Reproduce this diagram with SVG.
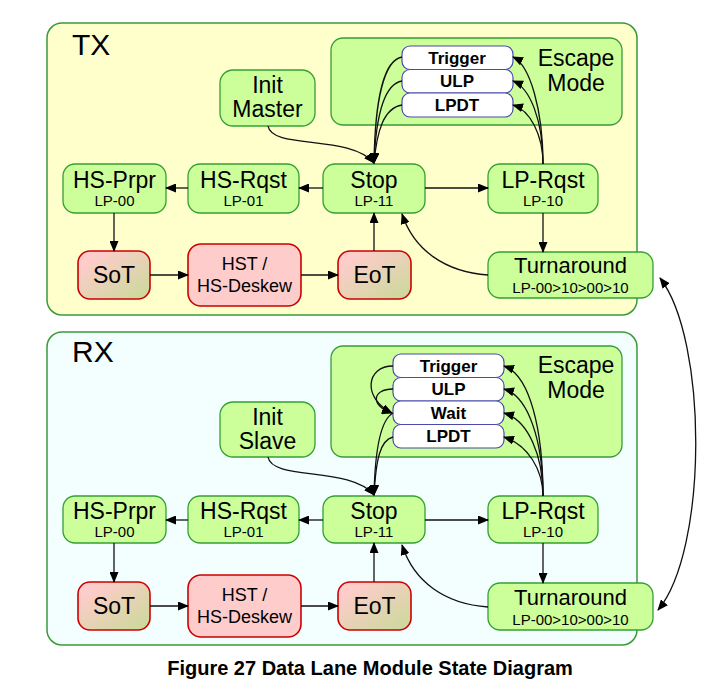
<svg xmlns="http://www.w3.org/2000/svg" width="714" height="682" viewBox="0 0 714 682">
<defs>
<style>
text{font-family:"Liberation Sans",Arial,sans-serif;fill:#000;text-anchor:middle}
.cont{stroke:#3a9a3a;stroke-width:1.5}
.esc{fill:#ccff99;stroke:#3a9a3a;stroke-width:1.3}
.node{fill:#ccff99;stroke:#33a033;stroke-width:1.3}
.red{fill:#ffcccc;stroke:#cc0000;stroke-width:1.6}
.grad{fill:url(#sg);stroke:#cc0000;stroke-width:1.6}
.sub{fill:#fff;stroke:#4a4aaa;stroke-width:1.2}
.big{font-size:23px}
.turn{font-size:22px}
.small{font-size:15px}
.mid{font-size:18px}
.bold{font-size:17px;font-weight:bold}
.title{font-size:30px;text-anchor:start}
.conn path{fill:none;stroke:#111;stroke-width:1.3}
.arr{marker-end:url(#ah)}
</style>
<linearGradient id="sg" x1="0" y1="0" x2="1" y2="1">
<stop offset="0.15" stop-color="#ffcccc"/>
<stop offset="1" stop-color="#c8da98"/>
</linearGradient>
<marker id="ah" markerUnits="userSpaceOnUse" markerWidth="11" markerHeight="9" refX="10" refY="4.5" orient="auto-start-reverse" viewBox="0 0 11 9">
<path d="M0,0 L11,4.5 L0,9 z" fill="#000"/>
</marker>
</defs>

<!-- containers -->
<g id="tx">
<rect class="cont" x="47" y="23" width="590" height="292" rx="15" fill="#ffffcc"/>
<text class="title" x="72" y="55">TX</text>
</g>
<g id="rx">
<rect class="cont" x="47" y="332" width="590" height="313" rx="15" fill="#f3ffff"/>
<text class="title" x="72" y="362">RX</text>
</g>

<!-- TX escape -->
<g id="tx-escape">
<rect class="esc" x="331" y="38" width="291" height="87" rx="12"/>
<text class="big" x="576" y="66">Escape</text>
<text class="big" x="576" y="91">Mode</text>
</g>
<g id="tx-trigger"><rect class="sub" x="402" y="46" width="111" height="23.5" rx="8"/><text class="bold" x="457" y="63.5">Trigger</text></g>
<g id="tx-ulp"><rect class="sub" x="402" y="69.5" width="111" height="23.5" rx="8"/><text class="bold" x="457" y="87">ULP</text></g>
<g id="tx-lpdt"><rect class="sub" x="402" y="93" width="111" height="24" rx="8"/><text class="bold" x="457" y="111">LPDT</text></g>

<g id="tx-init"><rect class="node" x="220" y="70" width="95" height="56" rx="13"/><text class="big" x="267.5" y="93">Init</text><text class="big" x="267.5" y="117">Master</text></g>
<g id="tx-hsprpr"><rect class="node" x="63" y="164" width="103" height="49" rx="12"/><text class="big" x="114.5" y="188">HS-Prpr</text><text class="small" x="114.5" y="206">LP-00</text></g>
<g id="tx-hsrqst"><rect class="node" x="188" y="164" width="111" height="49" rx="12"/><text class="big" x="243.5" y="188">HS-Rqst</text><text class="small" x="243.5" y="206">LP-01</text></g>
<g id="tx-stop"><rect class="node" x="323" y="164" width="102" height="49" rx="12"/><text class="big" x="374" y="188">Stop</text><text class="small" x="374" y="206">LP-11</text></g>
<g id="tx-lprqst"><rect class="node" x="488" y="164" width="110" height="49" rx="12"/><text class="big" x="543" y="188">LP-Rqst</text><text class="small" x="543" y="206">LP-10</text></g>
<g id="tx-sot"><rect class="grad" x="78" y="251" width="72" height="48" rx="12"/><text class="big" x="114" y="283">SoT</text></g>
<g id="tx-hst"><rect class="red" x="188" y="244" width="113" height="62" rx="13"/><text class="mid" x="244.5" y="270">HST /</text><text class="mid" x="244.5" y="292">HS-Deskew</text></g>
<g id="tx-eot"><rect class="grad" x="338" y="251" width="73" height="48" rx="12"/><text class="big" x="374.5" y="283">EoT</text></g>
<g id="tx-turn"><rect class="node" x="488" y="252" width="165" height="46" rx="12"/><text class="turn" x="570.5" y="273">Turnaround</text><text class="small" x="570.5" y="293">LP-00&gt;10&gt;00&gt;10</text></g>

<!-- RX escape -->
<g id="rx-escape">
<rect class="esc" x="331" y="346" width="291" height="111" rx="12"/>
<text class="big" x="576" y="373">Escape</text>
<text class="big" x="576" y="398">Mode</text>
</g>
<g id="rx-trigger"><rect class="sub" x="393" y="354" width="111" height="23.5" rx="8"/><text class="bold" x="448.5" y="371.5">Trigger</text></g>
<g id="rx-ulp"><rect class="sub" x="393" y="377.5" width="111" height="23.5" rx="8"/><text class="bold" x="448.5" y="395">ULP</text></g>
<g id="rx-wait"><rect class="sub" x="393" y="401" width="111" height="23.5" rx="8"/><text class="bold" x="448.5" y="418.5">Wait</text></g>
<g id="rx-lpdt"><rect class="sub" x="393" y="424.5" width="111" height="23.5" rx="8"/><text class="bold" x="448.5" y="442">LPDT</text></g>

<g id="rx-init"><rect class="node" x="220" y="402" width="95" height="55" rx="13"/><text class="big" x="267.5" y="425">Init</text><text class="big" x="267.5" y="449">Slave</text></g>
<g id="rx-hsprpr"><rect class="node" x="63" y="496" width="103" height="47" rx="12"/><text class="big" x="114.5" y="519">HS-Prpr</text><text class="small" x="114.5" y="537">LP-00</text></g>
<g id="rx-hsrqst"><rect class="node" x="188" y="496" width="111" height="47" rx="12"/><text class="big" x="243.5" y="519">HS-Rqst</text><text class="small" x="243.5" y="537">LP-01</text></g>
<g id="rx-stop"><rect class="node" x="323" y="496" width="102" height="47" rx="12"/><text class="big" x="374" y="519">Stop</text><text class="small" x="374" y="537">LP-11</text></g>
<g id="rx-lprqst"><rect class="node" x="488" y="496" width="110" height="47" rx="12"/><text class="big" x="543" y="519">LP-Rqst</text><text class="small" x="543" y="537">LP-10</text></g>
<g id="rx-sot"><rect class="grad" x="78" y="582" width="72" height="48" rx="12"/><text class="big" x="114" y="614">SoT</text></g>
<g id="rx-hst"><rect class="red" x="188" y="575" width="113" height="62" rx="13"/><text class="mid" x="244.5" y="601">HST /</text><text class="mid" x="244.5" y="623">HS-Deskew</text></g>
<g id="rx-eot"><rect class="grad" x="338" y="582" width="73" height="48" rx="12"/><text class="big" x="374.5" y="614">EoT</text></g>
<g id="rx-turn"><rect class="node" x="488" y="583" width="165" height="47" rx="12"/><text class="turn" x="570.5" y="605">Turnaround</text><text class="small" x="570.5" y="625">LP-00&gt;10&gt;00&gt;10</text></g>

<!-- connectors -->
<g id="connectors" class="conn">
<path class="arr" d="M323,188 L299,188"/>
<path class="arr" d="M188,188 L166,188"/>
<path class="arr" d="M114,213 L114,251"/>
<path class="arr" d="M150,275 L188,275"/>
<path class="arr" d="M301,275 L338,275"/>
<path class="arr" d="M374,251 L374,213"/>
<path class="arr" d="M425,188 L488,188"/>
<path class="arr" d="M543,213 L543,252"/>
<path class="arr" d="M488,275 C445,272 414,250 402,214"/>
<path class="arr" d="M268,126 C272,150 350,134 374,163"/>
<path class="arr" d="M402,57 C384,60 375,100 374,163"/>
<path class="arr" d="M402,81 C384,84 376,115 374,163"/>
<path class="arr" d="M402,105 C384,108 377,130 374,163"/>
<path class="arr" d="M543,164 C543,110 530,65 513,57"/>
<path class="arr" d="M543,164 C543,120 530,88 513,81"/>
<path class="arr" d="M543,164 C543,135 530,110 513,105"/>

<path class="arr" d="M323,520 L299,520"/>
<path class="arr" d="M188,520 L166,520"/>
<path class="arr" d="M114,543 L114,582"/>
<path class="arr" d="M150,606 L188,606"/>
<path class="arr" d="M301,606 L338,606"/>
<path class="arr" d="M374,582 L374,543"/>
<path class="arr" d="M425,520 L488,520"/>
<path class="arr" d="M543,543 L543,583"/>
<path class="arr" d="M488,607 C445,604 414,582 402,545"/>
<path class="arr" d="M268,457 C272,481 350,466 374,495"/>
<path class="arr" d="M393,366 C366,366 362,398 392,413"/>
<path class="arr" d="M393,389 C372,389 370,406 392,413"/>
<path class="arr" d="M393,413 C380,420 375,450 374,495"/>
<path class="arr" d="M393,437 C380,440 376,460 374,495"/>
<path class="arr" d="M543,496 C543,430 530,375 504,366"/>
<path class="arr" d="M543,496 C543,440 528,396 504,389"/>
<path class="arr" d="M543,496 C543,455 528,420 504,413"/>
<path class="arr" d="M543,496 C543,470 528,445 504,437"/>

<path d="M660,278 C708,340 708,550 658,610" marker-start="url(#ah)" marker-end="url(#ah)"/>
</g>

<text x="370" y="675" style="font-size:20px;font-weight:bold">Figure 27 Data Lane Module State Diagram</text>
</svg>
